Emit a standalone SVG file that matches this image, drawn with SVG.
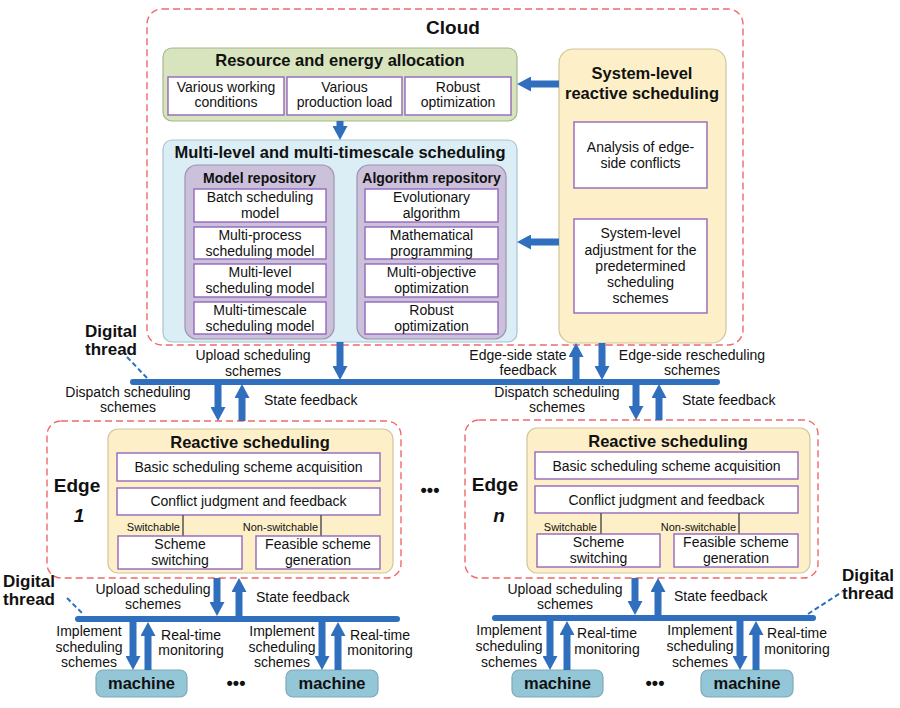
<svg xmlns="http://www.w3.org/2000/svg" width="900" height="708" viewBox="0 0 900 708">
<style>
text{font-family:"Liberation Sans",Arial,sans-serif;fill:#111;}
.t{font-size:14px;text-anchor:middle;}
.ts{font-size:11px;text-anchor:end;}
.tl{font-size:14px;text-anchor:start;}
.h{font-size:16.5px;font-weight:bold;text-anchor:middle;}
.h2{font-size:14px;font-weight:bold;text-anchor:middle;}
.big{font-size:19px;font-weight:bold;text-anchor:middle;}
.dt{font-size:17px;font-weight:bold;text-anchor:middle;}
.dots{font-size:18px;font-weight:bold;text-anchor:middle;}
.dash{fill:none;stroke:#f06a6a;stroke-width:1.4;stroke-dasharray:7 4;}
.green{fill:#d7e4bd;stroke:#a6b88c;stroke-width:1.2;}
.blue{fill:#dbeef5;stroke:#a9c4d0;stroke-width:1.2;}
.purp{fill:#ccc1da;stroke:#9d92b2;stroke-width:1.2;}
.yel{fill:#fdf0c8;stroke:#d2c49c;stroke-width:1.2;}
.wb{fill:#fff;stroke:#9467bd;stroke-width:1.4;}
.mach{fill:#93c6d6;stroke:#7fa9b8;stroke-width:1.2;}
.arr{stroke:#2f6fbe;stroke-width:7;marker-end:url(#ah);}
.bar{stroke:#2f6fbe;stroke-width:6;stroke-linecap:round;}
.thr{stroke:#2f6fbe;stroke-width:2;stroke-dasharray:5 3;fill:none;}
.vl{stroke:#555;stroke-width:1.5;}
</style>
<defs>
<marker id="ah" markerUnits="userSpaceOnUse" markerWidth="14" markerHeight="15" viewBox="0 0 14 15" refX="1" refY="7.5" orient="auto">
<path d="M0,0 L14,7.5 L0,15 z" fill="#2f6fbe"/>
</marker>
</defs>

<g id="cloud">
<rect class="dash" x="147" y="9" width="596" height="336" rx="15"/>
<text class="big" x="453" y="34">Cloud</text>
</g>

<g id="resource">
<rect class="green" x="163" y="48" width="354" height="73" rx="9"/>
<text class="h" x="340" y="66">Resource and energy allocation</text>
<rect class="wb" x="168" y="77" width="116" height="38"/>
<text class="t" x="226" y="92">Various working</text>
<text class="t" x="226" y="107">conditions</text>
<rect class="wb" x="287" y="77" width="115" height="38"/>
<text class="t" x="344.5" y="92">Various</text>
<text class="t" x="344.5" y="107">production load</text>
<rect class="wb" x="405" y="77" width="106" height="38"/>
<text class="t" x="458" y="92">Robust</text>
<text class="t" x="458" y="107">optimization</text>
</g>

<g id="multilevel">
<rect class="blue" x="163" y="140" width="354" height="202" rx="9"/>
<text class="h" x="340" y="158">Multi-level and multi-timescale scheduling</text>
</g>

<g id="model-repo">
<rect class="purp" x="185" y="165" width="149" height="174" rx="12"/>
<text class="h2" x="259.5" y="183">Model repository</text>
<rect class="wb" x="194" y="189" width="132" height="33"/>
<text class="t" x="260" y="202">Batch scheduling</text>
<text class="t" x="260" y="218">model</text>
<rect class="wb" x="194" y="227" width="132" height="32"/>
<text class="t" x="260" y="240">Multi-process</text>
<text class="t" x="260" y="256">scheduling model</text>
<rect class="wb" x="194" y="264" width="132" height="33"/>
<text class="t" x="260" y="277">Multi-level</text>
<text class="t" x="260" y="293">scheduling model</text>
<rect class="wb" x="194" y="302" width="132" height="32"/>
<text class="t" x="260" y="315">Multi-timescale</text>
<text class="t" x="260" y="331">scheduling model</text>
</g>

<g id="algo-repo">
<rect class="purp" x="357" y="165" width="149" height="174" rx="12"/>
<text class="h2" x="431.5" y="183">Algorithm repository</text>
<rect class="wb" x="365" y="189" width="133" height="33"/>
<text class="t" x="431.5" y="202">Evolutionary</text>
<text class="t" x="431.5" y="218">algorithm</text>
<rect class="wb" x="365" y="227" width="133" height="32"/>
<text class="t" x="431.5" y="240">Mathematical</text>
<text class="t" x="431.5" y="256">programming</text>
<rect class="wb" x="365" y="264" width="133" height="33"/>
<text class="t" x="431.5" y="277">Multi-objective</text>
<text class="t" x="431.5" y="293">optimization</text>
<rect class="wb" x="365" y="302" width="133" height="32"/>
<text class="t" x="431.5" y="315">Robust</text>
<text class="t" x="431.5" y="331">optimization</text>
</g>

<g id="system-level">
<rect class="yel" x="559" y="49" width="167" height="294" rx="14"/>
<text class="h" x="642" y="79">System-level</text>
<text class="h" x="642" y="99">reactive scheduling</text>
<rect class="wb" x="574" y="122" width="133" height="66"/>
<text class="t" x="640.5" y="152">Analysis of edge-</text>
<text class="t" x="640.5" y="168">side conflicts</text>
<rect class="wb" x="574" y="219" width="133" height="94"/>
<text class="t" x="640.5" y="238">System-level</text>
<text class="t" x="640.5" y="255">adjustment for the</text>
<text class="t" x="640.5" y="271">predetermined</text>
<text class="t" x="640.5" y="287">scheduling</text>
<text class="t" x="640.5" y="303">schemes</text>
</g>

<g id="edge1">
<rect class="dash" x="47" y="421" width="354" height="157" rx="14"/>
<text class="big" x="77" y="492">Edge</text>
<text class="big" x="79" y="522" font-style="italic">1</text>
<rect class="yel" x="108" y="429" width="285" height="144" rx="10"/>
<text class="h" x="250" y="448">Reactive scheduling</text>
<rect class="wb" x="117" y="453" width="263" height="28"/>
<text class="t" x="248.5" y="472">Basic scheduling scheme acquisition</text>
<rect class="wb" x="117" y="488" width="263" height="27"/>
<text class="t" x="248.5" y="506">Conflict judgment and feedback</text>
<line class="vl" x1="183" y1="515" x2="183" y2="536"/>
<line class="vl" x1="321" y1="515" x2="321" y2="536"/>
<text class="ts" x="180" y="531">Switchable</text>
<text class="ts" x="318" y="531">Non-switchable</text>
<rect class="wb" x="118" y="536" width="124" height="33"/>
<text class="t" x="180" y="549">Scheme</text>
<text class="t" x="180" y="565">switching</text>
<rect class="wb" x="256" y="536" width="124" height="33"/>
<text class="t" x="318" y="549">Feasible scheme</text>
<text class="t" x="318" y="565">generation</text>
</g>

<g id="edgen">
<rect class="dash" x="465" y="420" width="353" height="158" rx="14"/>
<text class="big" x="495" y="491">Edge</text>
<text class="big" x="499" y="522" font-style="italic">n</text>
<rect class="yel" x="527" y="428" width="283" height="145" rx="10"/>
<text class="h" x="668" y="447">Reactive scheduling</text>
<rect class="wb" x="535" y="452" width="263" height="27"/>
<text class="t" x="666.5" y="471">Basic scheduling scheme acquisition</text>
<rect class="wb" x="535" y="486" width="263" height="27"/>
<text class="t" x="666.5" y="505">Conflict judgment and feedback</text>
<line class="vl" x1="601" y1="513" x2="601" y2="534"/>
<line class="vl" x1="739" y1="513" x2="739" y2="534"/>
<text class="ts" x="597" y="531">Switchable</text>
<text class="ts" x="736" y="531">Non-switchable</text>
<rect class="wb" x="537" y="534" width="123" height="33"/>
<text class="t" x="598.5" y="547">Scheme</text>
<text class="t" x="598.5" y="563">switching</text>
<rect class="wb" x="674" y="534" width="124" height="33"/>
<text class="t" x="736" y="547">Feasible scheme</text>
<text class="t" x="736" y="563">generation</text>
</g>

<g id="machine-1"><rect class="mach" x="96" y="670" width="91" height="27" rx="7"/><text class="h" x="141.5" y="689">machine</text></g>
<g id="machine-2"><rect class="mach" x="286" y="670" width="92" height="27" rx="7"/><text class="h" x="332" y="689">machine</text></g>
<g id="machine-3"><rect class="mach" x="512" y="670" width="91" height="27" rx="7"/><text class="h" x="557.5" y="689">machine</text></g>
<g id="machine-4"><rect class="mach" x="701" y="670" width="92" height="27" rx="7"/><text class="h" x="747" y="689">machine</text></g>

<g id="labels">
<text class="dt" x="111" y="337">Digital</text>
<text class="dt" x="111" y="355">thread</text>
<text class="dt" x="29" y="587">Digital</text>
<text class="dt" x="29" y="605">thread</text>
<text class="dt" x="868" y="581">Digital</text>
<text class="dt" x="868" y="599">thread</text>
<text class="dots" x="430" y="496">•••</text>
<text class="dots" x="236" y="689">•••</text>
<text class="dots" x="655" y="689">•••</text>

<text class="t" x="253" y="360">Upload scheduling</text>
<text class="t" x="253" y="376">schemes</text>
<text class="t" x="128" y="397">Dispatch scheduling</text>
<text class="t" x="128" y="412">schemes</text>
<text class="tl" x="264" y="405">State feedback</text>
<text class="t" x="518" y="360">Edge-side state</text>
<text class="t" x="528" y="375">feedback</text>
<text class="t" x="692" y="360">Edge-side rescheduling</text>
<text class="t" x="692" y="375">schemes</text>
<text class="t" x="557" y="397">Dispatch scheduling</text>
<text class="t" x="557" y="412">schemes</text>
<text class="tl" x="682" y="405">State feedback</text>

<text class="t" x="153" y="594">Upload scheduling</text>
<text class="t" x="153" y="609">schemes</text>
<text class="tl" x="256" y="602">State feedback</text>
<text class="t" x="565" y="594">Upload scheduling</text>
<text class="t" x="565" y="609">schemes</text>
<text class="tl" x="674" y="601">State feedback</text>

<text class="t" x="89" y="636">Implement</text>
<text class="t" x="89" y="652">scheduling</text>
<text class="t" x="89" y="667">schemes</text>
<text class="t" x="191" y="640">Real-time</text>
<text class="t" x="191" y="655">monitoring</text>
<text class="t" x="282" y="636">Implement</text>
<text class="t" x="282" y="652">scheduling</text>
<text class="t" x="282" y="667">schemes</text>
<text class="t" x="380" y="640">Real-time</text>
<text class="t" x="380" y="655">monitoring</text>
<text class="t" x="509" y="635">Implement</text>
<text class="t" x="509" y="651">scheduling</text>
<text class="t" x="509" y="667">schemes</text>
<text class="t" x="607" y="638">Real-time</text>
<text class="t" x="607" y="654">monitoring</text>
<text class="t" x="700" y="635">Implement</text>
<text class="t" x="700" y="651">scheduling</text>
<text class="t" x="700" y="667">schemes</text>
<text class="t" x="797" y="638">Real-time</text>
<text class="t" x="797" y="654">monitoring</text>
</g>

<g id="connectors">
<line class="bar" x1="133" y1="382" x2="717" y2="382"/>
<line class="bar" x1="78" y1="619" x2="397" y2="619"/>
<line class="bar" x1="495" y1="618" x2="813" y2="618"/>
<line class="thr" x1="127" y1="357" x2="148" y2="379"/>
<line class="thr" x1="67" y1="598" x2="83" y2="614"/>
<line class="thr" x1="808" y1="614" x2="842" y2="592"/>

<line class="arr" x1="340" y1="121" x2="340" y2="127"/>
<line class="arr" x1="559" y1="84" x2="530" y2="84"/>
<line class="arr" x1="559" y1="242" x2="530" y2="242"/>
<line class="arr" x1="340" y1="342" x2="340" y2="367"/>
<line class="arr" x1="576" y1="382" x2="576" y2="356"/>
<line class="arr" x1="602" y1="343" x2="602" y2="367"/>
<line class="arr" x1="218" y1="384" x2="218" y2="408"/>
<line class="arr" x1="242" y1="421" x2="242" y2="397"/>
<line class="arr" x1="636" y1="384" x2="636" y2="407"/>
<line class="arr" x1="659" y1="420" x2="659" y2="397"/>

<line class="arr" x1="217" y1="578" x2="217" y2="603"/>
<line class="arr" x1="239" y1="616" x2="239" y2="591"/>
<line class="arr" x1="635" y1="578" x2="635" y2="602"/>
<line class="arr" x1="658" y1="615" x2="658" y2="591"/>

<line class="arr" x1="133" y1="619" x2="133" y2="657"/>
<line class="arr" x1="148" y1="670" x2="148" y2="635"/>
<line class="arr" x1="322" y1="619" x2="322" y2="657"/>
<line class="arr" x1="338" y1="670" x2="338" y2="635"/>
<line class="arr" x1="550" y1="618" x2="550" y2="657"/>
<line class="arr" x1="567" y1="670" x2="567" y2="634"/>
<line class="arr" x1="740" y1="618" x2="740" y2="657"/>
<line class="arr" x1="756" y1="670" x2="756" y2="634"/>
</g>
</svg>
